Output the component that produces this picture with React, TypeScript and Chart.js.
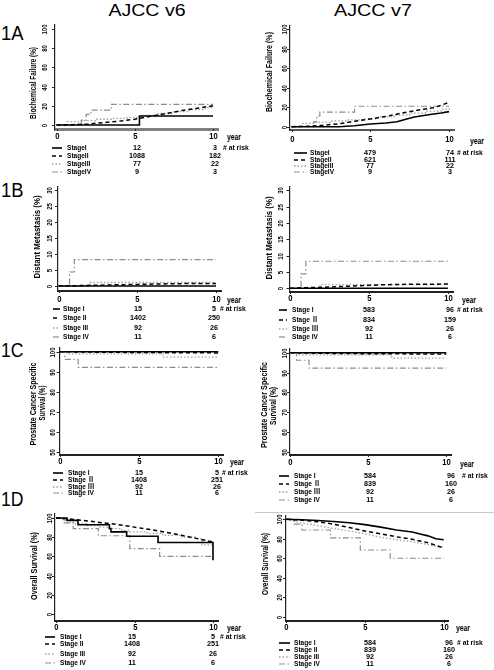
import React, { useEffect, useRef } from 'react';
import { Chart, registerables } from 'chart.js';
Chart.register(...registerables);

type Pt = [number, number];

// ---------- DATA ----------
const X_TICKS = [0, 5, 10];
const Y_TICKS_PCT = [0, 20, 40, 60, 80, 100];
const Y_TICKS_DM = [0, 5, 10, 15, 20, 25, 30];
const Y_TICKS_CS = [50, 60, 70, 80, 90, 100];

// 1A Biochemical failure (%) – AJCC v6
const bfV6_I: Pt[] = [[0, 0], [5.3, 9.3], [10, 9.3]];
const bfV6_II: Pt[] = [[0, 0], [1, 0.3], [2, 1], [3, 2.5], [4, 4], [5, 6], [6, 9], [7, 12], [8, 15], [9, 17.5], [10, 20]];
const bfV6_III: Pt[] = [[0, 0], [0.7, 3.5], [1.5, 4.5], [2.5, 6], [3.5, 7], [4.5, 8], [5.5, 10], [6.5, 12], [7.5, 14], [8.5, 16], [9.5, 18], [10, 19]];
const bfV6_IV: Pt[] = [[0, 0], [1.6, 5], [1.9, 11], [2.2, 15.5], [3.5, 21.5], [10, 21.5]];
// 1A – AJCC v7
const bfV7_I: Pt[] = [[0, 0], [3, 0], [3.5, 0.5], [4, 1], [5, 2.7], [6, 3.8], [6.7, 5], [7.2, 7.5], [7.8, 10], [8.8, 12.5], [9.5, 14], [10, 15.5]];
const bfV7_II: Pt[] = [[0, 0], [1, 0.5], [2, 1.5], [3, 3], [4, 5.5], [5, 8], [6, 10.5], [7, 14], [8, 17], [9, 19.5], [9.5, 22], [10, 25]];
const bfV7_III: Pt[] = [[0, 0], [0.7, 3.5], [1.5, 4.5], [2.5, 6], [3.5, 7], [4.5, 8], [5.5, 10], [6.5, 12], [7.5, 14], [8.5, 16], [9.5, 18], [10, 19]];
const bfV7_IV: Pt[] = [[0, 0], [1.4, 5], [1.6, 11], [1.8, 15], [4.0, 21], [10, 21]];

// 1B Distant metastasis (%)
const dmV6_I: Pt[] = [[0, 0], [10, 0]];
const dmV6_II: Pt[] = [[0, 0], [1, 0.1], [2, 0.2], [3, 0.3], [4, 0.4], [5, 0.5], [6, 0.6], [7, 0.7], [8, 0.75], [10, 0.8]];
const dmV6_III: Pt[] = [[0, 0], [2, 1.1], [10, 1.1]];
const dmV6_IV: Pt[] = [[0, 0], [0.7, 4.4], [1.0, 8.3], [10, 8.3]];
const dmV7_I: Pt[] = [[0, 0], [10, 0]];
const dmV7_II: Pt[] = [[0, 0], [1, 0.2], [2, 0.3], [3, 0.5], [4, 0.7], [5, 0.9], [6, 1.1], [7, 1.2], [10, 1.3]];
const dmV7_III: Pt[] = [[0, 0], [1.9, 1.1], [10, 1.1]];
const dmV7_IV: Pt[] = [[0, 0], [0.7, 4.4], [1.0, 8.3], [10, 8.3]];

// 1C Prostate cancer specific survival (%)
const csV6_I: Pt[] = [[0, 100], [10, 100]];
const csV6_II: Pt[] = [[0, 100], [2, 99.8], [5, 99.6], [10, 99.4]];
const csV6_III: Pt[] = [[0, 100], [0.4, 98.9], [6.5, 97.3], [10, 97.3]];
const csV6_IV: Pt[] = [[0, 100], [0.3, 96.2], [1.15, 92.2], [10, 92.2]];
const csV7_I: Pt[] = [[0, 100], [10, 100]];
const csV7_II: Pt[] = [[0, 100], [2, 99.7], [5, 99.5], [10, 99.3]];
const csV7_III: Pt[] = [[0, 100], [0.4, 98.9], [6.5, 97.3], [10, 97.3]];
const csV7_IV: Pt[] = [[0, 100], [0.4, 96.2], [1.2, 92.2], [10, 92.2]];

// 1D Overall survival (%)
const osV6_I: Pt[] = [[0, 100], [0.7, 97.5], [1.4, 93], [3.4, 89], [3.5, 85.5], [4.5, 81], [6.5, 74.5], [10, 74.5], [10, 56]];
const osV6_II: Pt[] = [[0, 100], [1, 98.8], [2, 97], [3, 95], [4, 93], [5, 90.5], [6, 88], [7, 85], [8, 82], [9, 78.5], [10, 75]];
const osV6_III: Pt[] = [[0, 100], [0.4, 97.5], [0.8, 95.5], [1.1, 94], [2, 92], [2.8, 90.5], [3.4, 89], [4.2, 87], [4.7, 85.5], [5.8, 84], [6.8, 82], [8, 80], [9, 78.5], [9.3, 72], [10, 72]];
const osV6_IV: Pt[] = [[0, 100], [0.5, 95], [1.1, 89], [2.7, 81.5], [4.7, 68], [6.6, 60], [10, 60]];
const osV7_I: Pt[] = [[0, 100], [1, 99.5], [2, 98.8], [3, 97.8], [4, 96.5], [5, 94.5], [6, 92], [7, 89], [8, 87], [8.5, 85], [9, 83], [9.5, 80], [10, 79]];
const osV7_II: Pt[] = [[0, 100], [1, 99], [2, 97.5], [3, 95], [4, 91.5], [5, 88], [6, 85], [7, 82], [8, 79.5], [9, 76], [10, 70.5]];
const osV7_III: Pt[] = [[0, 100], [0.5, 98], [1, 96], [2, 93.5], [3, 90.5], [4, 88], [5, 85], [6, 81.5], [7, 79], [8, 77], [9, 74], [10, 71]];
const osV7_IV: Pt[] = [[0, 100], [0.5, 95], [1, 89], [2.8, 81], [4.7, 68.5], [6.6, 60], [10, 60]];

// Numbers at risk [year 0, year 10] per stage
const risk1A_v6 = [[12, 3], [1088, 182], [77, 22], [9, 3]];
const risk1A_v7 = [[479, 74], [621, 111], [77, 22], [9, 3]];
const risk1B_v6 = [[15, 5], [1402, 250], [92, 26], [11, 6]];
const risk1B_v7 = [[583, 96], [834, 159], [92, 26], [11, 6]];
const risk1C_v6 = [[15, 5], [1408, 251], [92, 26], [11, 6]];
const risk1C_v7 = [[584, 96], [839, 160], [92, 26], [11, 6]];
const risk1D_v6 = [[15, 5], [1408, 251], [92, 26], [11, 6]];
const risk1D_v7 = [[584, 96], [839, 160], [92, 26], [11, 6]];

const namesCompact = ['StageI', 'StageII', 'StageIII', 'StageIV'];
const namesPlain = ['Stage I', 'Stage II', 'Stage III', 'Stage IV'];
const namesRoman = ['Stage I', 'Stage Ⅱ', 'Stage Ⅲ', 'Stage IV'];

// ---------- STYLE / LAYOUT ----------
const FONT = '"Liberation Sans", Arial, Helvetica, "Noto Sans CJK JP", sans-serif';
const STAGE_STYLES = [
  { color: '#000000', width: 1.6, dash: [] as number[] },
  { color: '#000000', width: 1.5, dash: [4, 3] },
  { color: '#a0a0a0', width: 1.3, dash: [1.5, 2] },
  { color: '#8c8c8c', width: 1.2, dash: [6, 2.5, 1.5, 2.5] },
];

type Geo = {
  axisLeft: number; x0: number; x10: number;
  yMaxPx: number; yMinPx: number; axisBottom: number;
  yMin: number; yMax: number; yTicks: number[];
  yLabOff: number; xLabOff: number; xAxisColor: string; xAxisWidth: number;
};

let mctx: CanvasRenderingContext2D | null = null;
function measure(text: string, font: string) {
  if (!mctx) mctx = document.createElement('canvas').getContext('2d');
  mctx!.font = font;
  return mctx!.measureText(text).width || 1;
}

function Txt(props: { x: number; y: number; text: string; size?: number; bold?: boolean; anchor?: 'l' | 'c' | 'r'; sx?: number; w?: number; rot?: number; color?: string }) {
  const { x, y, text, size = 8.5, bold = true, anchor = 'l', sx = 0.8, w, rot = 0, color = '#000' } = props;
  const font = `${bold ? 'bold ' : ''}${size}px ${FONT}`;
  const scale = w ? w / measure(text, font) : sx;
  const tx = anchor === 'l' ? '0' : anchor === 'c' ? '-50%' : '-100%';
  return (
    <div style={{ position: 'absolute', left: x, top: y, width: 0, height: 0 }}>
      <span style={{ position: 'absolute', left: 0, top: 0, whiteSpace: 'nowrap', font, lineHeight: 1, color, transformOrigin: '0 0', transform: `rotate(${rot}deg) scaleX(${scale}) translate(${tx}, -50%)` }}>{text}</span>
    </div>
  );
}

function axisPlugin(g: Geo) {
  return {
    id: 'rAxis',
    afterDraw(chart: any) {
      const { ctx, chartArea: a, scales } = chart;
      const xs = scales.x, ys = scales.y;
      ctx.save();
      ctx.strokeStyle = '#222'; ctx.fillStyle = '#000'; ctx.lineWidth = 1;
      ctx.textAlign = 'center'; ctx.textBaseline = 'middle';
      ctx.font = `bold 7.5px ${FONT}`;
      for (const v of g.yTicks) {
        const py = Math.round(ys.getPixelForValue(v)) + 0.5;
        ctx.beginPath(); ctx.moveTo(a.left - 3, py); ctx.lineTo(a.left, py); ctx.stroke();
        ctx.save(); ctx.translate(a.left - g.yLabOff, py); ctx.rotate(-Math.PI / 2); ctx.scale(0.8, 1); ctx.fillText(String(v), 0, 0); ctx.restore();
      }
      ctx.font = `bold 9px ${FONT}`;
      for (const v of X_TICKS) {
        const px = Math.round(xs.getPixelForValue(v)) + 0.5;
        ctx.beginPath(); ctx.moveTo(px, a.bottom); ctx.lineTo(px, a.bottom + 2); ctx.stroke();
        ctx.save(); ctx.translate(px, a.bottom + g.xLabOff); ctx.scale(0.85, 1); ctx.fillText(String(v), 0, 0); ctx.restore();
      }
      ctx.restore();
    },
  };
}

function KMPanel({ g, series, stepped }: { g: Geo; series: Pt[][]; stepped: boolean[] }) {
  const ref = useRef<HTMLCanvasElement>(null);
  const cLeft = Math.floor(g.axisLeft - 22);
  const cTop = Math.floor(g.yMaxPx - 10);
  const W = Math.ceil(g.x10 + 8 - cLeft);
  const H = Math.ceil(g.axisBottom + 16 - cTop);
  useEffect(() => {
    const pxX = (g.x10 - g.x0) / 10;
    const pxY = (g.yMinPx - g.yMaxPx) / (g.yMax - g.yMin);
    const chart = new Chart(ref.current as HTMLCanvasElement, {
      type: 'line',
      data: {
        datasets: series.map((s, i) => ({
          data: s.map(([x, y]) => ({ x, y })),
          borderColor: STAGE_STYLES[i].color,
          borderWidth: STAGE_STYLES[i].width,
          borderDash: STAGE_STYLES[i].dash,
          stepped: stepped[i] ? 'before' : false,
          pointRadius: 0,
          fill: false,
          tension: 0,
        })) as any,
      },
      options: {
        animation: false,
        responsive: false,
        events: [],
        layout: { padding: { left: 0, bottom: 0, top: g.yMaxPx - 4 - cTop, right: cLeft + W - (g.x10 + 5) } },
        plugins: { legend: { display: false }, tooltip: { enabled: false } },
        scales: {
          x: {
            type: 'linear', min: -(g.x0 - g.axisLeft) / pxX, max: 10 + 5 / pxX,
            ticks: { display: false }, grid: { display: false },
            border: { display: true, color: g.xAxisColor, width: g.xAxisWidth },
            afterFit: (s: any) => { s.height = cTop + H - g.axisBottom; },
          },
          y: {
            type: 'linear', min: g.yMin - (g.axisBottom - g.yMinPx) / pxY, max: g.yMax + 4 / pxY,
            ticks: { display: false }, grid: { display: false },
            border: { display: true, color: '#222', width: 1.2 },
            afterFit: (s: any) => { s.width = g.axisLeft - cLeft; },
          },
        },
      } as any,
      plugins: [axisPlugin(g)],
    });
    return () => chart.destroy();
  }, []);
  return <canvas ref={ref} width={W} height={H} style={{ position: 'absolute', left: cLeft, top: cTop, width: W, height: H }} />;
}

type RiskGeo = { rows: number[]; s1: number; s2: number; nameX: number; c1: number; c2: number; riskX: number };

function RiskTable({ r, names, nums }: { r: RiskGeo; names: string[]; nums: number[][] }) {
  return (
    <>
      {names.map((n, i) => (
        <React.Fragment key={i}>
          <svg style={{ position: 'absolute', left: r.s1, top: r.rows[i] - 3, overflow: 'visible' }} width={r.s2 - r.s1} height={6}>
            <line x1={0} y1={3} x2={r.s2 - r.s1} y2={3} stroke={STAGE_STYLES[i].color} strokeWidth={STAGE_STYLES[i].width} strokeDasharray={STAGE_STYLES[i].dash.length ? STAGE_STYLES[i].dash.join(' ') : undefined} />
          </svg>
          <Txt x={r.nameX} y={r.rows[i]} text={n} size={8} sx={0.82} />
          <Txt x={r.c1} y={r.rows[i]} text={String(nums[i][0])} size={8} anchor="c" sx={0.9} />
          <Txt x={r.c2} y={r.rows[i]} text={String(nums[i][1])} size={8} anchor="c" sx={0.9} />
        </React.Fragment>
      ))}
      <Txt x={r.riskX} y={r.rows[0]} text="# at risk" size={8} sx={0.85} />
    </>
  );
}

const G1AL: Geo = { axisLeft: 55, x0: 56.5, x10: 213, yMaxPx: 29, yMinPx: 125, axisBottom: 129, yMin: 0, yMax: 100, yTicks: Y_TICKS_PCT, yLabOff: 10, xLabOff: 8, xAxisColor: '#808080', xAxisWidth: 3 };
const G1AR: Geo = { axisLeft: 290, x0: 291.5, x10: 449, yMaxPx: 29.3, yMinPx: 126.7, axisBottom: 130, yMin: 0, yMax: 100, yTicks: Y_TICKS_PCT, yLabOff: 5.5, xLabOff: 10, xAxisColor: '#555', xAxisWidth: 2 };
const G1BL: Geo = { axisLeft: 58, x0: 58.5, x10: 216, yMaxPx: 190.5, yMinPx: 286, axisBottom: 291, yMin: 0, yMax: 30, yTicks: Y_TICKS_DM, yLabOff: 8.5, xLabOff: 8.5, xAxisColor: '#222', xAxisWidth: 2 };
const G1BR: Geo = { axisLeft: 289.5, x0: 290, x10: 448, yMaxPx: 190.5, yMinPx: 288.3, axisBottom: 292, yMin: 0, yMax: 30, yTicks: Y_TICKS_DM, yLabOff: 9, xLabOff: 7, xAxisColor: '#222', xAxisWidth: 2 };
const G1CL: Geo = { axisLeft: 59.5, x0: 60, x10: 218.3, yMaxPx: 351.7, yMinPx: 451.7, axisBottom: 455, yMin: 50, yMax: 100, yTicks: Y_TICKS_CS, yLabOff: 7, xLabOff: 7, xAxisColor: '#222', xAxisWidth: 2 };
const G1CR: Geo = { axisLeft: 290, x0: 290.3, x10: 446.3, yMaxPx: 352.7, yMinPx: 452, axisBottom: 455, yMin: 50, yMax: 100, yTicks: Y_TICKS_CS, yLabOff: 5.5, xLabOff: 8, xAxisColor: '#222', xAxisWidth: 2 };
const G1DL: Geo = { axisLeft: 55, x0: 56, x10: 213, yMaxPx: 518, yMinPx: 614, axisBottom: 621, yMin: 0, yMax: 100, yTicks: Y_TICKS_PCT, yLabOff: 5.5, xLabOff: 6.5, xAxisColor: '#222', xAxisWidth: 2 };
const G1DR: Geo = { axisLeft: 286, x0: 286.3, x10: 443.7, yMaxPx: 519.3, yMinPx: 616.7, axisBottom: 621, yMin: 0, yMax: 100, yTicks: Y_TICKS_PCT, yLabOff: 6.5, xLabOff: 7, xAxisColor: '#222', xAxisWidth: 2 };

const R1AL: RiskGeo = { rows: [148.3, 156, 164.3, 172.3], s1: 52, s2: 62, nameX: 66.7, c1: 136.7, c2: 215, riskX: 222.7 };
const R1AR: RiskGeo = { rows: [153.3, 160, 165.7, 171.7], s1: 294, s2: 307, nameX: 310, c1: 370, c2: 450, riskX: 457 };
const R1BL: RiskGeo = { rows: [309.3, 317.7, 327.7, 336.7], s1: 53, s2: 60, nameX: 63.3, c1: 138.3, c2: 214, riskX: 220 };
const R1BR: RiskGeo = { rows: [310, 320, 329.3, 336.7], s1: 279, s2: 287, nameX: 292, c1: 368.7, c2: 450, riskX: 457 };
const R1CL: RiskGeo = { rows: [472.7, 480, 486.7, 493.3], s1: 53, s2: 63, nameX: 68, c1: 139.3, c2: 216.7, riskX: 221.7 };
const R1CR: RiskGeo = { rows: [475.7, 484, 492.3, 500], s1: 279, s2: 289, nameX: 293.7, c1: 370, c2: 451, riskX: 462 };
const R1DL: RiskGeo = { rows: [637.3, 644, 654, 662.7], s1: 45, s2: 55, nameX: 60, c1: 131.7, c2: 213.3, riskX: 220 };
const R1DR: RiskGeo = { rows: [642.7, 650, 656.7, 664], s1: 279, s2: 290, nameX: 293.7, c1: 369.7, c2: 448.7, riskX: 457 };

export default function App() {
  return (
    <div style={{ position: 'absolute', left: 0, top: 0, width: 494, height: 670, background: '#fff', overflow: 'hidden' }}>
      <KMPanel g={G1AL} series={[bfV6_I, bfV6_II, bfV6_III, bfV6_IV]} stepped={[true, false, true, true]} />
      <KMPanel g={G1AR} series={[bfV7_I, bfV7_II, bfV7_III, bfV7_IV]} stepped={[false, false, true, true]} />
      <KMPanel g={G1BL} series={[dmV6_I, dmV6_II, dmV6_III, dmV6_IV]} stepped={[true, false, true, true]} />
      <KMPanel g={G1BR} series={[dmV7_I, dmV7_II, dmV7_III, dmV7_IV]} stepped={[true, false, true, true]} />
      <KMPanel g={G1CL} series={[csV6_I, csV6_II, csV6_III, csV6_IV]} stepped={[true, false, true, true]} />
      <KMPanel g={G1CR} series={[csV7_I, csV7_II, csV7_III, csV7_IV]} stepped={[true, false, true, true]} />
      <KMPanel g={G1DL} series={[osV6_I, osV6_II, osV6_III, osV6_IV]} stepped={[true, false, true, true]} />
      <KMPanel g={G1DR} series={[osV7_I, osV7_II, osV7_III, osV7_IV]} stepped={[false, false, false, true]} />

      <div style={{ position: 'absolute', left: 255, top: 512, width: 239, height: 1, background: '#c8c8c8' }} />

      <Txt x={146.5} y={11} text="AJCC v6" size={16} bold={false} anchor="c" w={77} />
      <Txt x={373} y={11} text="AJCC v7" size={16} bold={false} anchor="c" w={78} />
      <Txt x={0.5} y={32.5} text="1A" size={20} bold={false} w={22.5} />
      <Txt x={0.5} y={190} text="1B" size={20} bold={false} w={22.5} />
      <Txt x={0.5} y={350} text="1C" size={20} bold={false} w={22.5} />
      <Txt x={0.5} y={498.5} text="1D" size={20} bold={false} w={22.5} />

      <Txt x={33} y={82.5} text="Biochemical Failure (%)" anchor="c" rot={-90} w={72} />
      <Txt x={269} y={72} text="Biochemical Failure (%)" anchor="c" rot={-90} w={80} />
      <Txt x={37} y={236.5} text="Distant Metastasis (%)" anchor="c" rot={-90} w={83} />
      <Txt x={269} y={238} text="Distant Metastasis (%)" anchor="c" rot={-90} w={83} />
      <Txt x={33} y={403.5} text="Prostate Cancer Specific" anchor="c" rot={-90} w={83} />
      <Txt x={42} y={403} text="Survival (%)" anchor="c" rot={-90} w={35} />
      <Txt x={264} y={405} text="Prostate Cancer Specific" anchor="c" rot={-90} w={86} />
      <Txt x={272.5} y={406} text="Survival (%)" anchor="c" rot={-90} w={38} />
      <Txt x={33.5} y={566} text="Overall Survival (%)" anchor="c" rot={-90} w={68} />
      <Txt x={265} y={564} text="Overall Survival (%)" anchor="c" rot={-90} w={62} />

      <Txt x={227} y={137.3} text="year" />
      <Txt x={470} y={141} text="year" />
      <Txt x={227} y={299.5} text="year" />
      <Txt x={462} y={300} text="year" />
      <Txt x={230} y={462} text="year" />
      <Txt x={460} y={464} text="year" />
      <Txt x={227} y={628} text="year" />
      <Txt x={456} y={628} text="year" />

      <RiskTable r={R1AL} names={namesCompact} nums={risk1A_v6} />
      <RiskTable r={R1AR} names={namesCompact} nums={risk1A_v7} />
      <RiskTable r={R1BL} names={namesPlain} nums={risk1B_v6} />
      <RiskTable r={R1BR} names={namesRoman} nums={risk1B_v7} />
      <RiskTable r={R1CL} names={namesRoman} nums={risk1C_v6} />
      <RiskTable r={R1CR} names={namesRoman} nums={risk1C_v7} />
      <RiskTable r={R1DL} names={namesPlain} nums={risk1D_v6} />
      <RiskTable r={R1DR} names={namesPlain} nums={risk1D_v7} />
    </div>
  );
}
